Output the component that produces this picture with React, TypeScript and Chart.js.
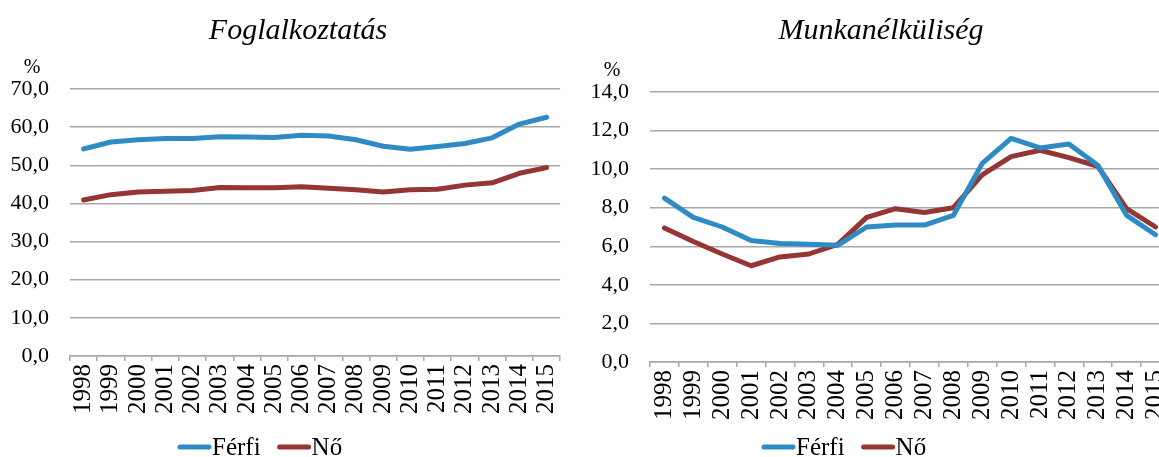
import React, { useEffect, useRef } from 'react';
import { Chart, registerables } from 'chart.js';

Chart.register(...registerables);

const years = ['1998', '1999', '2000', '2001', '2002', '2003', '2004', '2005', '2006', '2007', '2008', '2009', '2010', '2011', '2012', '2013', '2014', '2015'];

const seriesLabels = ['Férfi', 'Nő'];

const employmentMale = [54.3, 56.1, 56.7, 57.0, 57.0, 57.5, 57.4, 57.3, 57.9, 57.7, 56.7, 55.0, 54.2, 54.9, 55.7, 57.2, 60.8, 62.6];
const employmentFemale = [40.9, 42.3, 43.0, 43.2, 43.4, 44.2, 44.1, 44.1, 44.4, 44.0, 43.6, 43.0, 43.6, 43.7, 44.8, 45.4, 47.9, 49.4];

const unemploymentMale = [8.5, 7.5, 7.0, 6.3, 6.15, 6.1, 6.05, 7.0, 7.1, 7.1, 7.6, 10.3, 11.6, 11.1, 11.3, 10.2, 7.6, 6.6];
const unemploymentFemale = [6.95, 6.25, 5.6, 4.99, 5.45, 5.6, 6.1, 7.5, 7.95, 7.75, 8.0, 9.7, 10.65, 10.98, 10.6, 10.15, 7.95, 7.0];

const employmentTitle = 'Foglalkoztatás';
const unemploymentTitle = 'Munkanélküliség';
const unitLabel = '%';

const BLUE = '#2e8bc3';
const RED = '#943634';
const GRID = '#a8a8a8';
const FONT = "'Liberation Serif', 'Times New Roman', serif";
const FONT_SIZE = 22;
const X_FONT_SIZE = 25;
const LEGEND_FONT_SIZE = 25;

const fmt = (v: number) => v.toFixed(1).replace('.', ',');

const unitPlugin = {
  id: 'unitLabel',
  afterDraw(chart: any) {
    const ctx = chart.ctx;
    const area = chart.chartArea;
    ctx.save();
    ctx.font = `${FONT_SIZE - 2}px ${FONT}`;
    ctx.fillStyle = '#000';
    ctx.textAlign = 'center';
    ctx.textBaseline = 'middle';
    ctx.fillText(unitLabel, area.left - 38, area.top - 21);
    ctx.restore();
  },
};

const titlePlugin = {
  id: 'chartTitle',
  afterDraw(chart: any, _args: any, opts: any) {
    const ctx = chart.ctx;
    ctx.save();
    ctx.font = `italic 30px ${FONT}`;
    ctx.fillStyle = '#000';
    ctx.textAlign = 'center';
    ctx.textBaseline = 'alphabetic';
    ctx.fillText(opts.text, opts.x, opts.y);
    ctx.restore();
  },
};

const legendPlugin = {
  id: 'customLegend',
  afterDraw(chart: any, _args: any, opts: any) {
    const ctx = chart.ctx;
    ctx.save();
    ctx.font = `${LEGEND_FONT_SIZE}px ${FONT}`;
    ctx.textBaseline = 'middle';
    ctx.textAlign = 'left';
    let x = opts.x;
    const y = opts.y;
    chart.data.datasets.forEach((ds: any) => {
      ctx.strokeStyle = ds.borderColor;
      ctx.lineWidth = 5;
      ctx.lineCap = 'round';
      ctx.beginPath();
      ctx.moveTo(x + 2, y);
      ctx.lineTo(x + 31, y);
      ctx.stroke();
      x += 34;
      ctx.fillStyle = '#000';
      ctx.fillText(ds.label, x, y + 1);
      x += ctx.measureText(ds.label).width + 17;
    });
    ctx.restore();
  },
};

function makeConfig(
  title: string,
  titleX: number,
  male: number[],
  female: number[],
  maxY: number,
  stepY: number,
  padTop: number,
  padBottom: number,
  padRight: number,
  legendX: number
): any {
  return {
    type: 'line',
    data: {
      labels: years,
      datasets: [
        {
          label: seriesLabels[0],
          data: male,
          borderColor: BLUE,
          backgroundColor: BLUE,
          borderWidth: 5,
          pointRadius: 0,
          tension: 0,
          borderCapStyle: 'round',
          borderJoinStyle: 'round',
        },
        {
          label: seriesLabels[1],
          data: female,
          borderColor: RED,
          backgroundColor: RED,
          borderWidth: 5,
          pointRadius: 0,
          tension: 0,
          borderCapStyle: 'round',
          borderJoinStyle: 'round',
        },
      ],
    },
    options: {
      responsive: false,
      animation: false,
      devicePixelRatio: 1,
      layout: { padding: { left: 0, right: padRight, top: padTop, bottom: padBottom } },
      plugins: {
        legend: { display: false },
        tooltip: { enabled: false },
        title: { display: false },
        chartTitle: { text: title, x: titleX, y: 39 },
        customLegend: { x: legendX, y: 447 },
      },
      scales: {
        x: {
          type: 'category',
          offset: true,
          afterFit: (s: any) => {
            s.height = 62;
          },
          border: { display: true, color: GRID, width: 1.5 },
          grid: { display: true, drawOnChartArea: false, drawTicks: true, tickLength: 5, offset: true, color: GRID, lineWidth: 1.5 },
          ticks: {
            autoSkip: false,
            minRotation: 90,
            maxRotation: 90,
            padding: 3,
            color: '#000',
            font: { family: FONT, size: X_FONT_SIZE },
          },
        },
        y: {
          min: 0,
          max: maxY,
          afterFit: (s: any) => {
            s.width = 70;
          },
          border: { display: false },
          grid: { color: GRID, lineWidth: 1.5, drawTicks: false },
          ticks: {
            stepSize: stepY,
            padding: 21,
            color: '#000',
            font: { family: FONT, size: FONT_SIZE },
            callback: (v: any) => fmt(Number(v)),
          },
        },
      },
    },
    plugins: [unitPlugin, titlePlugin, legendPlugin],
  };
}

function LineChart({ config, left, width }: { config: () => any; left: number; width: number }) {
  const ref = useRef<HTMLCanvasElement | null>(null);
  useEffect(() => {
    if (!ref.current) return;
    const chart = new Chart(ref.current, config());
    return () => chart.destroy();
  }, []);
  return (
    <canvas
      ref={ref}
      width={width}
      height={457}
      style={{ position: 'absolute', left, top: 0, width, height: 457, display: 'block' }}
    />
  );
}

export default function App() {
  return (
    <div
      style={{
        position: 'fixed',
        left: 0,
        top: 0,
        width: 1159,
        height: 457,
        overflow: 'hidden',
        background: '#fff',
      }}
    >
      <LineChart
        left={0}
        width={580}
        config={() => makeConfig(employmentTitle, 298, employmentMale, employmentFemale, 70, 10, 89, 39, 16, 178)}
      />
      <LineChart
        left={580}
        width={620}
        config={() => makeConfig(unemploymentTitle, 301, unemploymentMale, unemploymentFemale, 14, 2, 92, 33, 30, 182)}
      />
    </div>
  );
}
